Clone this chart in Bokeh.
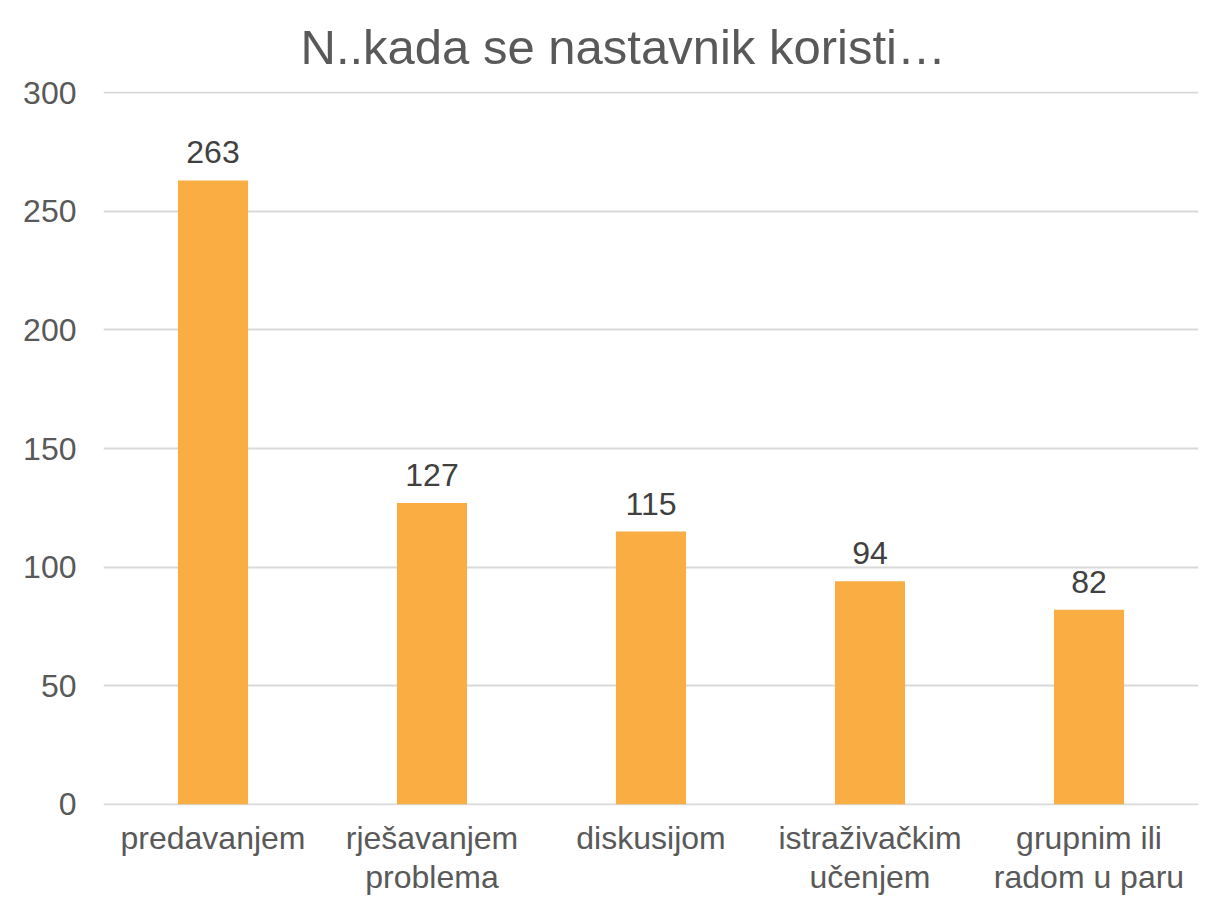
from bokeh.plotting import figure
from bokeh.models import ColumnDataSource, LabelSet, Range1d, SingleIntervalTicker
from bokeh.core.properties import value
from bokeh.embed import file_html
from bokeh.resources import INLINE

categories = ["predavanjem", "rješavanjem\nproblema", "diskusijom", "istraživačkim\nučenjem", "grupnim ili\nradom u paru"]
values = [263, 127, 115, 94, 82]
labels = [str(v) for v in values]

src = ColumnDataSource(dict(cat=categories, val=values, lab=labels))

FONT = "Liberation Sans"
p = figure(x_range=categories, width=1205, height=898, output_backend="svg",
           toolbar_location=None, min_border_left=103, min_border_right=7,
           min_border_top=91, min_border_bottom=93)
p.y_range = Range1d(-0.5, 300.5)
p.vbar(x="cat", top="val", width=0.32, source=src, color="#F9AD42", line_color=None)
p.add_layout(LabelSet(x="cat", y="val", text="lab", source=src, y_offset=17,
                      text_align="center", text_baseline="bottom",
                      text_font=value(FONT), text_font_size="32px", text_color="#404040"))

p.title.text = "N..kada se nastavnik koristi…"
p.title.align = "left"
p.title.offset = 197
p.title.standoff = 35
p.title.text_line_height = 0.7
p.title.text_font = FONT
p.title.text_font_size = "49px"
p.title.text_font_style = "normal"
p.title.text_color = "#595959"

p.outline_line_color = None
p.xgrid.grid_line_color = None
p.ygrid.grid_line_color = "#D9D9D9"
p.ygrid.grid_line_width = 2
p.yaxis.ticker = SingleIntervalTicker(interval=50)
for ax in (p.xaxis, p.yaxis):
    ax.axis_line_color = None
    ax.major_tick_line_color = None
    ax.minor_tick_line_color = None
    ax.major_label_text_font = FONT
    ax.major_label_text_font_size = "32px"
    ax.major_label_text_color = "#595959"
p.yaxis.major_label_standoff = 21
p.xaxis.major_label_standoff = 8
p.xaxis.major_label_text_line_height = 1.1

open("out.html", "w").write(file_html(p, INLINE))
